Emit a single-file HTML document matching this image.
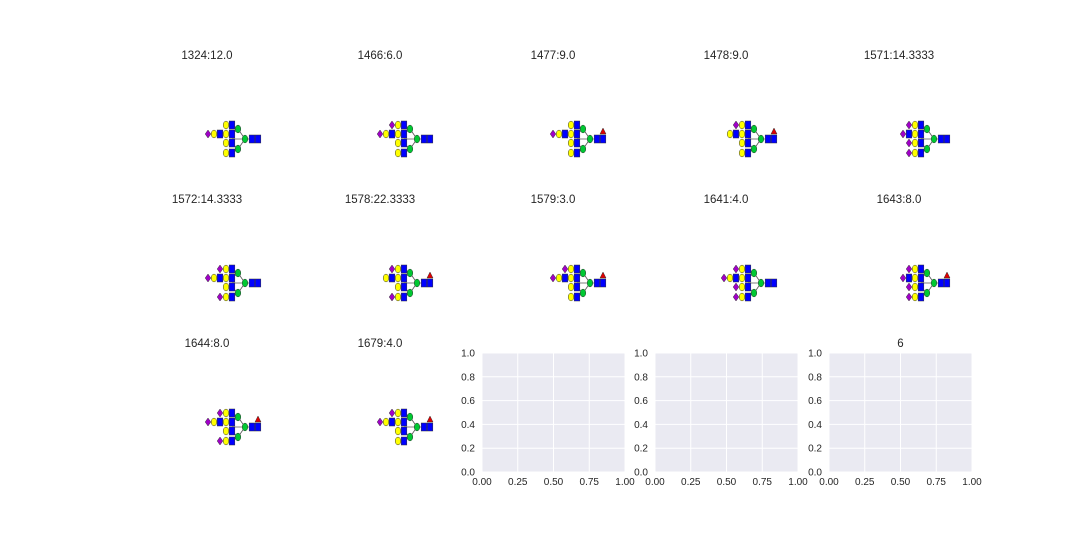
<!DOCTYPE html>
<html><head><meta charset="utf-8"><style>
body{margin:0;background:#fff;}
svg{display:block;font-family:"Liberation Sans","DejaVu Sans",sans-serif;}
</style></head><body>
<svg id="fig" width="1080" height="540" viewBox="0 0 1080 540" xmlns="http://www.w3.org/2000/svg">
<rect width="1080" height="540" fill="#fff"/>
</svg>
<script>
const titles=["1324:12.0","1466:6.0","1477:9.0","1478:9.0","1571:14.3333","1572:14.3333","1578:22.3333","1579:3.0","1641:4.0","1643:8.0","1644:8.0","1679:4.0"];
const antennae=[["","BYP","",""],["P","BYP","",""],["","BYP","",""],["P","BY","",""],["P","BP","P","P"],["P","BYP","","P"],["P","BY","","P"],["P","BYP","",""],["P","BYP","P","P"],["P","BP","P","P"],["P","BYP","","P"],["P","BYP","",""]];
const fucose=[0,0,1,1,0,0,1,1,0,1,1,1];
const emptyTitles=["","","6"];
const xTicks=[0,0.25,0.5,0.75,1.0];
const yTicks=[0,0.2,0.4,0.6,0.8,1.0];
const NS="http://www.w3.org/2000/svg";
const svg=document.getElementById('fig');
function mk(tag,attrs,parent){const e=document.createElementNS(NS,tag);for(const k in attrs)e.setAttribute(k,attrs[k]);(parent||svg).appendChild(e);return e;}
const st={stroke:"#333","stroke-width":0.5};
function sq(g,x,y){mk('rect',Object.assign({x:x-2.8,y:y-4,width:5.6,height:8,fill:"#0000ff"},st),g);}
function circ(g,x,y,c){mk('ellipse',Object.assign({cx:x,cy:y,rx:2.8,ry:3.9,fill:c},st),g);}
function dia(g,x,y){mk('polygon',Object.assign({points:`${x-2.8},${y} ${x},${y-4} ${x+2.8},${y} ${x},${y+4}`,fill:"#a000c8"},st),g);}
function glycan(g,E,C,ant,fuc){
  const rowsY=[C-14,C-5,C+4,C+14];
  mk('line',{x1:E-29,y1:C,x2:E-3,y2:C,stroke:"#555","stroke-width":0.8},g);
  [[C-10,rowsY[0],rowsY[1]],[C+10,rowsY[2],rowsY[3]]].forEach(([gy,a,b])=>{
    mk('line',{x1:E-23,y1:gy,x2:E-16,y2:C,stroke:"#555","stroke-width":0.8},g);
    mk('line',{x1:E-29,y1:a,x2:E-23,y2:gy,stroke:"#555","stroke-width":0.8},g);
    mk('line',{x1:E-29,y1:b,x2:E-23,y2:gy,stroke:"#555","stroke-width":0.8},g);
  });
  ant.forEach((tail,i)=>{
    const y=rowsY[i];
    sq(g,E-29,y);circ(g,E-35,y,"#ffff00");
    let x=E-41;
    for(const ch of tail){ if(ch==='B')sq(g,x,y);else if(ch==='Y')circ(g,x,y,"#ffff00");else dia(g,x,y);x-=6;}
  });
  circ(g,E-23,C-10,"#00c832");circ(g,E-23,C+10,"#00c832");
  circ(g,E-16,C,"#00c832");
  sq(g,E-9,C);sq(g,E-3,C);
  if(fuc)mk('polygon',Object.assign({points:`${E-6},${C-5} ${E-3},${C-11} ${E},${C-5}`,fill:"#e00000"},st),g);
}
const colX=[207,380,553,726,899];
const Ends=[261,433,606,777,950];
const rowY=[139,283,427];
const titleY=[59,203,347];
titles.forEach((t,i)=>{
  const r=Math.floor(i/5),c=i%5;
  const g=mk('g',{});
  
  
  const tx=mk('text',{x:colX[c],y:titleY[r],"font-size":11.5,"text-anchor":"middle",fill:"#262626"},g);
  tx.textContent=t;
  
  
  glycan(g,Ends[c],rowY[r],antennae[i],fucose[i]);
});
const axL=[482,655,829],axW=143,axT=353,axH=119;
axL.forEach((L,k)=>{
  const g=mk('g',{});
  
  
  mk('rect',{x:L,y:axT,width:axW,height:axH,fill:"#eaeaf2"},g);
  const sx=v=>L+v*axW, sy=v=>axT+axH-v*axH;
  xTicks.forEach(v=>{
    mk('line',{x1:sx(v),y1:axT,x2:sx(v),y2:axT+axH,stroke:"#fff","stroke-width":1},g);
    const t=mk('text',{x:sx(v),y:axT+axH+13,"font-size":10,"text-anchor":"middle",fill:"#262626"},g);
    t.textContent=v.toFixed(2);
  });
  yTicks.forEach(v=>{
    mk('line',{x1:L,y1:sy(v),x2:L+axW,y2:sy(v),stroke:"#fff","stroke-width":1},g);
    const t=mk('text',{x:L-7,y:sy(v)+3.5,"font-size":10,"text-anchor":"end",fill:"#262626"},g);
    t.textContent=v.toFixed(1);
  });
  if(emptyTitles[k]){const t=mk('text',{x:L+axW/2,y:347,"font-size":11.5,"text-anchor":"middle",fill:"#262626"},g);t.textContent=emptyTitles[k];}
});
</script>
</body></html>
